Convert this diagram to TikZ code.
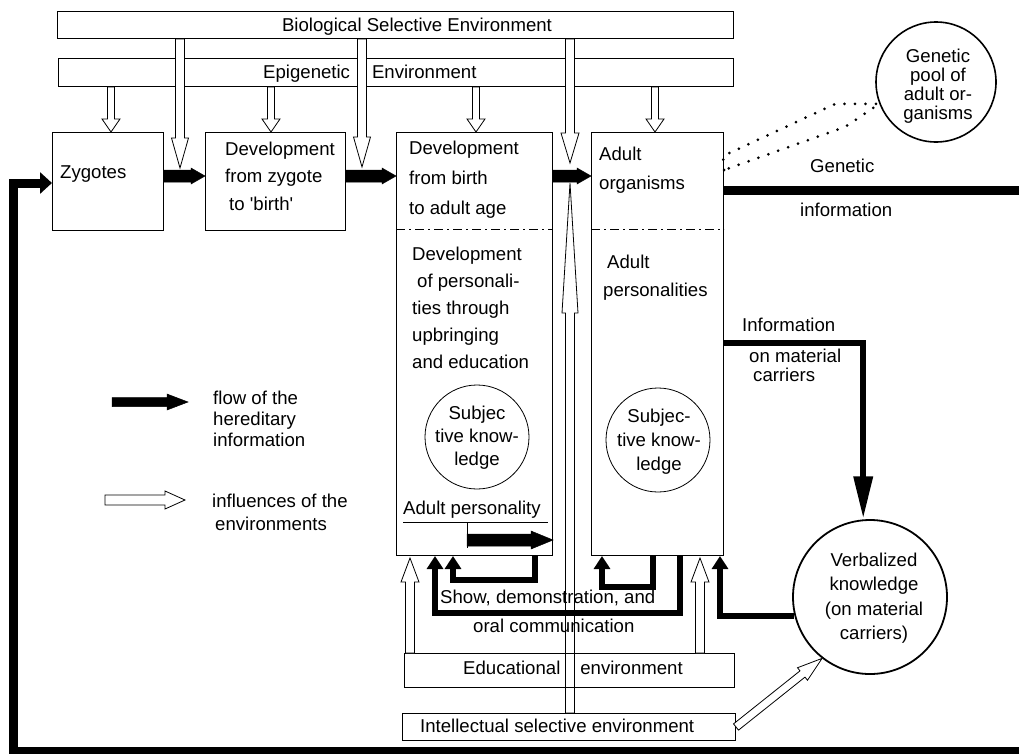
\documentclass[tikz,border=0pt]{standalone}
\usepackage{fontspec}
\setmainfont{Liberation Sans}
\usetikzlibrary{calc,arrows.meta}
\newcommand\fsz[1]{\fontsize{18.6}{#1}\selectfont}
\newcommand\blockarrow[6]{%
  \path[#1] let \p1=(#2), \p2=(#3), \n1={atan2(\y2-\y1,\x2-\x1)} in
    ($(\p1)+(\n1+90:#4pt)$) -- ($(\p2)+(\n1+180:#6pt)+(\n1+90:#4pt)$)
    -- ($(\p2)+(\n1+180:#6pt)+(\n1+90:#5pt)$) -- (\p2)
    -- ($(\p2)+(\n1+180:#6pt)+(\n1-90:#5pt)$) -- ($(\p2)+(\n1+180:#6pt)+(\n1-90:#4pt)$)
    -- ($(\p1)+(\n1-90:#4pt)$) -- cycle;}
\begin{document}
\begin{tikzpicture}[x=1pt,y=-1pt,
  box/.style={draw, line width=1pt, inner sep=0pt, anchor=north west},
  ring/.style={draw, circle, inner sep=0pt},
  txt/.style={inner sep=0pt, align=left, anchor=north west},
  tl/.style={inner sep=0pt, anchor=base west, font=\fsz{22}},
  hollow/.style={fill=white, draw=black, line width=0.8pt},
  openarrow/.style={draw=black, line width=0.8pt},
  solidarrow/.style={fill=black, draw=black, line width=0.5pt},
  flow/.style={draw=black, line width=#1, line join=miter},
  divider/.style={line width=0.9pt, dash pattern=on 9pt off 4pt on 2pt off 4pt},
  dotline/.style={line width=3pt, line cap=round, dash pattern=on 0pt off 10.5pt}
]
\useasboundingbox (0,0) rectangle (1019,753);
\clip (0,0) rectangle (1019,753);
\fill[white] (0,0) rectangle (1019,753);

% ---------- boxes ----------
\node[box, minimum width=676pt, minimum height=27pt] (bio) at (57,11) {};
\node[box, minimum width=675pt, minimum height=28pt] (epi) at (58,58) {};
\node[box, minimum width=111pt, minimum height=98pt] (zyg) at (52,132) {};
\node[box, minimum width=140pt, minimum height=98pt] (dzb) at (205,132) {};
\node[box, minimum width=156pt, minimum height=423pt] (dba) at (396,132) {};
\node[box, minimum width=132pt, minimum height=423pt] (adult) at (591,132) {};
\node[box, minimum width=330pt, minimum height=34pt] (edu) at (404,653) {};
\node[box, minimum width=333pt, minimum height=27pt] (intel) at (402,713) {};

% circles
\node[ring, line width=1.6pt, minimum size=120pt] (pool) at (936,82) {};
\node[ring, line width=0.8pt, minimum size=104pt] (subj1) at (477,437) {};
\node[ring, line width=0.8pt, minimum size=104pt] (subj2) at (658,440) {};
\node[ring, line width=1.8pt, minimum size=154pt] (verb) at (870,597) {};

% dividers
\coordinate (dy) at (0,229);
\draw[divider] (dba.west |- dy) -- (dba.east |- dy);
\draw[divider] (adult.west |- dy) -- (adult.east |- dy);

% ---------- hollow arrows (environments) ----------
\coordinate (b1) at (180,168);
\coordinate (b2) at (362,167);
\coordinate (b3) at (570,163);
\blockarrow{hollow}{bio.south -| b1}{b1}{4.5}{8.5}{30}
\blockarrow{hollow}{bio.south -| b2}{b2}{4.5}{8.5}{30}
\blockarrow{hollow}{bio.south -| b3}{b3}{4.5}{9}{30}

\coordinate (e1) at (111,0);
\coordinate (e2) at (271,0);
\coordinate (e3) at (476,0);
\coordinate (e4) at (655,0);
\blockarrow{hollow}{epi.south -| e1}{zyg.north -| e1}{3.5}{9}{13}
\blockarrow{hollow}{epi.south -| e2}{dzb.north -| e2}{3.5}{9}{13}
\blockarrow{hollow}{epi.south -| e3}{dba.north -| e3}{3.5}{9}{13}
\blockarrow{hollow}{epi.south -| e4}{adult.north -| e4}{3.5}{9}{13}

\coordinate (it) at (570,183);
\blockarrow{openarrow}{intel.north -| it}{it}{4.5}{8}{130}

\coordinate (u1) at (410,558);
\coordinate (u2) at (700,558);
\blockarrow{hollow}{edu.north -| u1}{u1}{4.5}{9}{24}
\blockarrow{hollow}{edu.north -| u2}{u2}{4.5}{9}{24}

\blockarrow{hollow}{intel.east}{verb.232}{4}{8}{25}

% ---------- dotted link to genetic pool ----------
\coordinate (dp1) at (723,156);
\coordinate (dp2) at (835,104);
\coordinate (dp4) at (845,127);
\coordinate (dp5) at (724,170);
\draw[dotline] (dp5) -- (dp1) -- (dp2) -- (pool.201) -- (dp4) -- cycle;

% ---------- thick flows ----------
\coordinate (yg) at (0,190);
\coordinate (rc) at (1026,190);
\coordinate (rb) at (1026,751);
\coordinate (lb) at (13,751);
\coordinate (yz) at (0,183);
\coordinate (lt) at (13,183);
\draw[flow=9pt, -{Triangle[length=12pt,width=21pt]}]
  (adult.east |- yg) -- (rc) -- (rb) -- (lb) -- (lt) -- (zyg.west |- yz);

\coordinate (yi) at (0,343);
\draw[flow=6.5pt, -{Triangle[length=43pt,width=18pt]}]
  (adult.east |- yi) -- (verb.95 |- yi) -- (verb.95);

\coordinate (v1) at (720,0);
\draw[flow=6.5pt, -{Triangle[length=13pt,width=16pt]}]
  (verb.194) -- (v1 |- verb.194) -- (adult.south -| v1);

\coordinate (l1) at (680,0);
\coordinate (l2) at (435,0);
\coordinate (yl) at (0,613);
\draw[flow=6.5pt, -{Triangle[length=13pt,width=16pt]}]
  (adult.south -| l1) -- (l1 |- yl) -- (l2 |- yl) -- (dba.south -| l2);

\coordinate (s1) at (535,0);
\coordinate (s2) at (453,0);
\coordinate (ys) at (0,580);
\draw[flow=6.5pt, -{Triangle[length=13pt,width=16pt]}]
  (dba.south -| s1) -- (s1 |- ys) -- (s2 |- ys) -- (dba.south -| s2);

\coordinate (r1) at (653,0);
\coordinate (r2) at (602,0);
\coordinate (yr) at (0,587);
\draw[flow=6.5pt, -{Triangle[length=13pt,width=16pt]}]
  (adult.south -| r1) -- (r1 |- yr) -- (r2 |- yr) -- (adult.south -| r2);

% ---------- black block arrows ----------
\coordinate (ya) at (0,176);
\blockarrow{solidarrow}{zyg.east |- ya}{dzb.west |- ya}{6}{8}{14}
\blockarrow{solidarrow}{dzb.east |- ya}{dba.west |- ya}{6}{8}{14}
\blockarrow{solidarrow}{dba.east |- ya}{adult.west |- ya}{6}{8}{14}

% adult personality
\coordinate (ap1) at (403,522);
\coordinate (ap2) at (548,522);
\coordinate (ap3) at (467,522);
\coordinate (ap4) at (467,548);
\coordinate (ap5) at (467,540);
\draw[line width=1pt] (ap1) -- (ap2);
\draw[line width=1pt] (ap3) -- (ap4);
\blockarrow{solidarrow}{ap5}{dba.east |- ap5}{6}{9}{22}

% legend arrows
\coordinate (lg1) at (112,402);
\coordinate (lg2) at (188,402);
\coordinate (lg3) at (105,500);
\coordinate (lg4) at (185,500);
\blockarrow{solidarrow}{lg1}{lg2}{4.5}{8}{21}
\blockarrow{hollow}{lg3}{lg4}{5}{9}{20}

% ---------- texts ----------
\node[inner sep=0pt, anchor=base, font=\fsz{22}] (tbio) at (417,31.5) {Biological Selective Environment};
\node[tl] (tepi) at (263,78.5) {Epigenetic\hspace*{22pt}Environment};
\node[tl] (tzyg) at (60,178.5) {Zygotes};
\node[txt, font=\fsz{27.5}] (tdzb) at (225,141.5) {Development\\from zygote\\\hspace*{4pt}to \textquotesingle birth\textquotesingle};
\node[txt, font=\fsz{30}] (tdba1) at (409,140.5) {Development\\from birth\\to adult age};
\node[txt, font=\fsz{27.2}] (tdba2) at (412,246.5) {Development\\\hspace*{5pt}of personali-\\ties through\\upbringing\\and education};
\node[txt, font=\fsz{29}] (tad1) at (599,146.5) {Adult\\organisms};
\node[txt, font=\fsz{28}] (tad2) at (607,254.5) {Adult\\\hspace*{-4pt}personalities};
\node[inner sep=0pt, align=center, font=\fsz{23}] (ts1) at (477,438) {Subjec\\tive know-\\ledge};
\node[inner sep=0pt, align=center, font=\fsz{24}] (ts2) at (659,442) {Subjec-\\tive know-\\ledge};
\node[inner sep=0pt, align=center, font=\fsz{19}] (tpool) at (938,86) {Genetic\\pool of\\adult or-\\ganisms};
\node[tl] (tgen) at (810,172.5) {Genetic};
\node[tl] (tginf) at (800,216.5) {information};
\node[tl] (tinfo) at (742,331.5) {Information};
\node[txt, font=\fsz{19.5}] (tmat) at (749,348.5) {on material\\\hspace*{4pt}carriers};
\node[inner sep=0pt, align=center, font=\fsz{24.5}] (tverb) at (874,598) {Verbalized\\knowledge\\(on material\\carriers)};
\node[tl] (tap) at (403,514.5) {Adult personality};
\node[tl] (tshow) at (440,603.5) {Show, demonstration, and};
\node[tl] (toral) at (473,632.5) {oral communication};
\node[tl] (tedu) at (463,674.5) {Educational\hspace*{20pt}environment};
\node[tl] (tint) at (420,732.5) {Intellectual selective environment};
\node[txt, font=\fsz{21}] (tleg1) at (213,390.5) {flow of the\\hereditary\\information};
\node[txt, font=\fsz{23}] (tleg2) at (212,493.5) {influences of the\\\hspace*{3pt}environments};
\end{tikzpicture}
\end{document}
